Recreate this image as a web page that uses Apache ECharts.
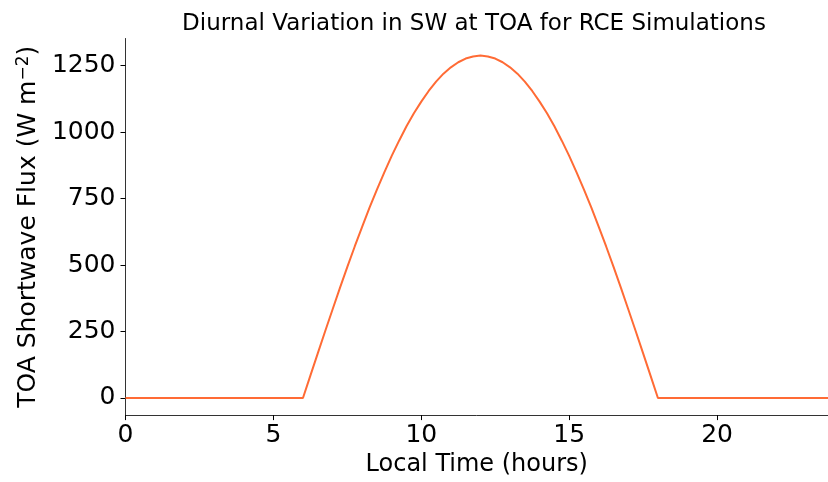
<!DOCTYPE html>
<html>
<head>
<meta charset="utf-8">
<script src="https://cdn.jsdelivr.net/npm/echarts@6/dist/echarts.min.js"></script>
<style>html,body{margin:0;padding:0;background:#fff;}#c{width:828px;height:482px;}</style>
</head>
<body>
<div id="c"></div>
<script>
// Local time (hours)
var hours = [
  0,0.25,0.5,0.75,1,1.25,1.5,1.75,2,2.25,2.5,2.75,3,3.25,3.5,3.75,
  4,4.25,4.5,4.75,5,5.25,5.5,5.75,6,6.25,6.5,6.75,7,7.25,7.5,7.75,
  8,8.25,8.5,8.75,9,9.25,9.5,9.75,10,10.25,10.5,10.75,11,11.25,11.5,11.75,
  12,12.25,12.5,12.75,13,13.25,13.5,13.75,14,14.25,14.5,14.75,15,15.25,15.5,15.75,
  16,16.25,16.5,16.75,17,17.25,17.5,17.75,18,18.25,18.5,18.75,19,19.25,19.5,19.75,
  20,20.25,20.5,20.75,21,21.25,21.5,21.75,22,22.25,22.5,22.75,23,23.25,23.5,23.75
];
// TOA shortwave flux (W m^-2)
var swFlux = [
  0,0,0,0,0,0,0,0,0,0,0,0,0,0,0,0,
  0,0,0,0,0,0,0,0,0,84,168,251,333,414,493,570,
  644,716,784,849,911,968,1022,1071,1115,1155,1190,1220,1244,1263,1277,1285,
  1288,1285,1277,1263,1244,1220,1190,1155,1115,1071,1022,968,911,849,784,716,
  644,570,493,414,333,251,168,84,0,0,0,0,0,0,0,0,
  0,0,0,0,0,0,0,0,0,0,0,0,0,0,0,0
];
var yTicks = [0, 250, 500, 750, 1000, 1250];
var xTicks = [0, 5, 10, 15, 20];

var pts = hours.map(function (h, i) { return [h, swFlux[i]]; });
var font = 'DejaVu Sans';
var chart = echarts.init(document.getElementById('c'), null, {renderer: 'canvas'});
chart.setOption({
  animation: false,
  backgroundColor: '#ffffff',
  title: {
    text: 'Diurnal Variation in SW at TOA for RCE Simulations',
    left: 469, top: 8, textAlign: 'center',
    textStyle: {fontFamily: font, fontSize: 23, fontWeight: 'normal', color: '#000'}
  },
  grid: {left: 125.5, top: 38.5, width: 705.4, height: 383, containLabel: false},
  xAxis: {
    type: 'value', min: 0, max: 23.75, interval: 5,
    name: 'Local Time (hours)', nameLocation: 'middle', nameGap: 37,
    nameTextStyle: {fontFamily: font, fontSize: 24, color: '#000'},
    axisLine: {onZero: false, lineStyle: {color: '#333', width: 1}},
    axisTick: {show: true, length: 5, lineStyle: {color: '#000'}, customValues: xTicks},
    axisLabel: {fontFamily: font, fontSize: 25, color: '#000', margin: 8, customValues: xTicks,
      formatter: function (v) { return String(v); }},
    splitLine: {show: false}
  },
  yAxis: {
    type: 'value', min: -64.4, max: 1352.4,
    name: '{n|TOA Shortwave Flux (W m}{s|−2}{n|)}', nameLocation: 'middle', nameGap: 68,
    nameTextStyle: {
      fontFamily: font, fontSize: 25, color: '#000',
      rich: {
        n: {fontFamily: font, fontSize: 25, color: '#000'},
        s: {fontFamily: font, fontSize: 17, color: '#000', verticalAlign: 'top', padding: [0, 0, 9, 0]}
      }
    },
    axisLine: {show: true, lineStyle: {color: '#333', width: 1}},
    axisTick: {show: true, length: 5, lineStyle: {color: '#000'}, customValues: yTicks},
    axisLabel: {fontFamily: font, fontSize: 25, color: '#000', margin: 10, customValues: yTicks,
      formatter: function (v) { return String(v); }},
    splitLine: {show: false}
  },
  series: [{
    type: 'line', data: pts, showSymbol: false, symbol: 'none',
    lineStyle: {color: '#ff6b35', width: 2}, clip: true
  }]
});
</script>
</body>
</html>
